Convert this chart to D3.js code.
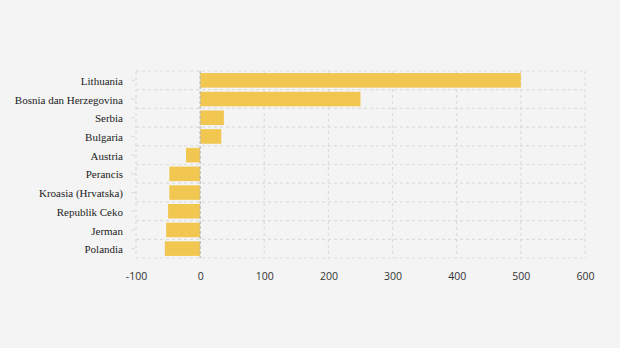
<!DOCTYPE html>
<html>
<head>
<meta charset="utf-8">
<script src="https://cdn.jsdelivr.net/npm/d3@7"></script>
<style>
  html, body { margin: 0; padding: 0; background: #f4f4f4; }
  svg { display: block; }
  .cat text { font-family: "Liberation Serif", "Times New Roman", serif; font-size: 11px; fill: #222; }
  .xaxis text { font-family: "Open Sans", "Noto Sans", sans-serif; font-size: 10.5px; fill: #333; }
</style>
</head>
<body>
<svg id="chart" width="620" height="348"></svg>
<script>
// Countries, top to bottom
const countries = [
  "Lithuania", "Bosnia dan Herzegovina", "Serbia", "Bulgaria", "Austria",
  "Perancis", "Kroasia (Hrvatska)", "Republik Ceko", "Jerman", "Polandia"
];
const values = [500, 250, 37, 33, -22, -48, -48, -50, -53, -55];
const xTicks = [-100, 0, 100, 200, 300, 400, 500, 600];

const plot = { left: 136, right: 585, top: 71, bottom: 258 };
const barColor = "#f1c752";
const gridColor = "#dcdcdc";

const svg = d3.select("#chart");

const x = d3.scaleLinear().domain([-100, 600]).range([plot.left, plot.right]);
const y = d3.scaleBand().domain(countries).range([plot.top, plot.bottom]).paddingInner(0.22).paddingOuter(0.11);

// Horizontal grid lines at category boundaries
const bounds = d3.range(countries.length + 1).map(i => plot.top + i * (plot.bottom - plot.top) / countries.length);
svg.append("g").selectAll("line").data(bounds).join("line")
  .attr("x1", plot.left).attr("x2", plot.right)
  .attr("y1", d => d).attr("y2", d => d)
  .attr("stroke", gridColor).attr("stroke-width", 1.2).attr("stroke-dasharray", "3,3");

// Vertical grid lines at each tick
svg.append("g").selectAll("line").data(xTicks.filter(t => t !== 0)).join("line")
  .attr("x1", d => x(d)).attr("x2", d => x(d))
  .attr("y1", plot.top).attr("y2", plot.bottom)
  .attr("stroke", gridColor).attr("stroke-width", 1.2).attr("stroke-dasharray", "3,3");

// Bars
svg.append("g").selectAll("rect").data(countries).join("rect")
  .attr("x", (d, i) => x(Math.min(0, values[i])))
  .attr("width", (d, i) => Math.abs(x(values[i]) - x(0)))
  .attr("y", d => y(d))
  .attr("height", y.bandwidth())
  .attr("fill", barColor);

// Zero line
svg.append("line")
  .attr("x1", x(0)).attr("x2", x(0))
  .attr("y1", plot.top).attr("y2", plot.bottom)
  .attr("stroke", "#b5b5b5").attr("stroke-width", 1.2).attr("stroke-dasharray", "3,2");

// Category axis
const yAxis = svg.append("g").attr("class", "cat")
  .attr("transform", `translate(${plot.left},0)`)
  .call(d3.axisLeft(y).tickSize(4).tickPadding(9));
yAxis.select(".domain").remove();
yAxis.selectAll(".tick line").attr("stroke", "#dddddd").attr("transform", "translate(-1,0)");
yAxis.selectAll(".tick text").attr("dy", "0.42em");

// Value axis
const xAxis = svg.append("g").attr("class", "xaxis")
  .attr("transform", `translate(0,${plot.bottom})`)
  .call(d3.axisBottom(x).tickValues(xTicks).tickSize(0).tickPadding(15).tickFormat(d => String(d)));
xAxis.select(".domain").remove();
</script>
</body>
</html>
